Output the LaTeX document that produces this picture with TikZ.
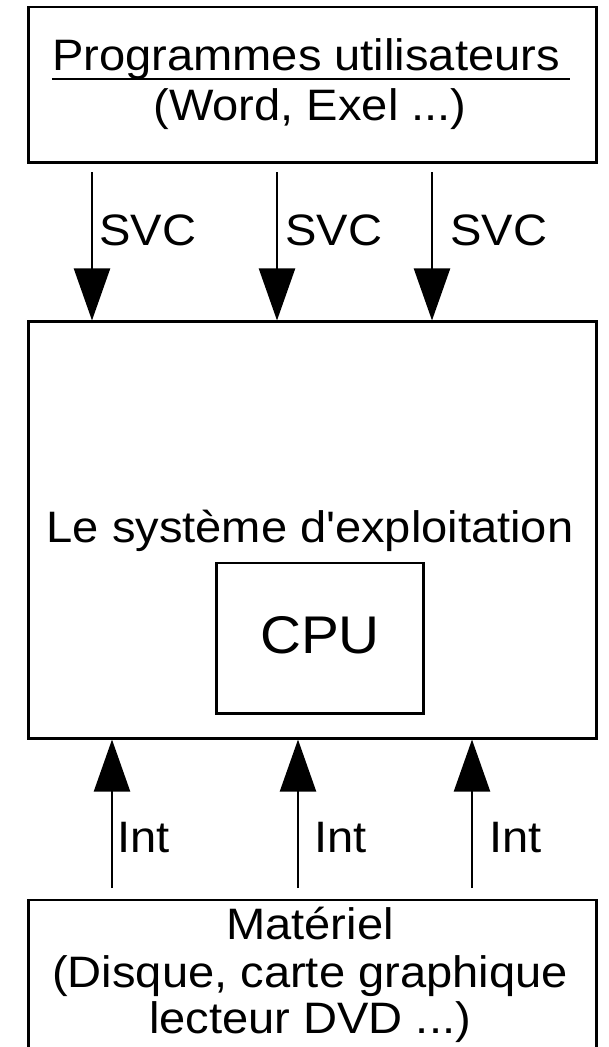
\documentclass[tikz,border=0pt]{standalone}
\usepackage{fontspec}
\setmainfont{Liberation Sans}[FakeStretch=1.07]
\usetikzlibrary{arrows.meta,calc}

\tikzset{
  bloc/.style={draw, line width=2.1pt, inner sep=0pt},
  texte/.style={font=\fontsize{31.3}{37}\selectfont, inner sep=0pt, anchor=base},
  etiq/.style={texte, anchor=base west},
  fleche/.style={line width=1.6pt, -{Triangle[width=0.9cm,length=1.3cm]}},
}

\begin{document}
\begin{tikzpicture}[x=0.025cm,y=-0.025cm]
    \clip (0,0) rectangle (608,1047);
    % boites
    \node[bloc, minimum width=14.175cm, minimum height=3.875cm] (prog) at (312.5,84.5) {};
    \node[bloc, minimum width=14.175cm, minimum height=10.4cm] (os) at (312.5,530) {};
    \node[bloc, minimum width=5.15cm, minimum height=3.75cm] (cpu) at (320,638) {};
    \node[bloc, minimum width=14.175cm, minimum height=4cm] (mat) at (312.5,980) {};
    % textes
    \node[texte] (titre) at (306,70) {Programmes utilisateurs};
    \draw[line width=1.5pt] ($(titre.base west)+(0,9)$) -- ($(titre.base east)+(10,9)$);
    \node[texte] (exemples) at (310,120) {(Word, Exel ...)};
    \node[texte] (systeme) at (310,542) {Le système d\textquotesingle exploitation};
    \node[texte, font=\fontsize{37.7}{44}\selectfont] (cpulbl) at (320,653) {CPU};
    \node[texte] (mat1) at (310,939) {Matériel};
    \node[texte] (mat2) at (310,987) {(Disque, carte graphique};
    \node[texte] (mat3) at (310,1033) {lecteur DVD ...)};
    % appels systeme
    \coordinate (s1) at (92,172);
    \coordinate (s2) at (277,172);
    \coordinate (s3) at (432,172);
    \draw[fleche] (s1) -- (s1 |- os.north);
    \draw[fleche] (s2) -- (s2 |- os.north);
    \draw[fleche] (s3) -- (s3 |- os.north);
    \node[etiq] (svc1) at (99,245) {SVC};
    \node[etiq] (svc2) at (285,245) {SVC};
    \node[etiq] (svc3) at (450,245) {SVC};
    % interruptions
    \coordinate (i1) at (112,888);
    \coordinate (i2) at (298,888);
    \coordinate (i3) at (472,888);
    \draw[fleche] (i1) -- (i1 |- os.south);
    \draw[fleche] (i2) -- (i2 |- os.south);
    \draw[fleche] (i3) -- (i3 |- os.south);
    \node[etiq] (int1) at (117,852) {Int};
    \node[etiq] (int2) at (314,852) {Int};
    \node[etiq] (int3) at (489,852) {Int};
\end{tikzpicture}
\end{document}
